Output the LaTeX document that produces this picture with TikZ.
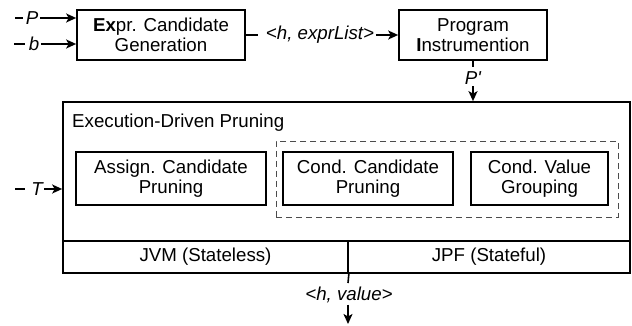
\documentclass[tikz,border=0pt]{standalone}
\usepackage{fontspec}
\setmainfont{Liberation Sans}
\usetikzlibrary{arrows.meta}
\begin{document}
\begin{tikzpicture}[x=1pt,y=-1pt,
  box/.style={draw, line width=1.7pt, align=center, inner sep=0pt, font=\fontsize{18.7}{20.5}\selectfont},
  lbl/.style={inner sep=1.5pt, font=\fontsize{18.7}{20.5}\selectfont\itshape},
  txt/.style={inner sep=0pt, font=\fontsize{18.7}{20.5}\selectfont},
  conn/.style={line width=1.6pt},
  arr/.style={line width=1.6pt, -{Stealth[length=10pt,width=9pt,inset=2.5pt]}},
  grpbox/.style={draw=black!70, line width=0.9pt, dash pattern=on 6pt off 4pt, inner sep=0pt},
]
\useasboundingbox (0,0) rectangle (632,326);

% top row
\node[box, minimum width=168pt, minimum height=50pt] (expr) at (161,35)
  {{\bfseries Ex}pr. Candidate\\Generation};
\node[box, minimum width=148pt, minimum height=50pt] (prog) at (473,35)
  {Program\\{\bfseries I}nstrumention};

% inputs to expr
\coordinate (ps) at (15,18);
\coordinate (pe) at (23,18);
\node[lbl] (p) at (32,18) {P};
\draw[conn] (ps) -- (pe);
\draw[arr] (p.east) -- (expr.west |- p.east);

\coordinate (bs) at (14,44);
\coordinate (be) at (25,44);
\node[lbl] (b) at (34,44) {b};
\draw[conn] (bs) -- (be);
\draw[arr] (b.east) -- (expr.west |- b.east);

% expr -> prog
\coordinate (he) at (258,35);
\node[lbl] (hl) at (320,35) {<h, exprList>};
\draw[conn] (expr.east |- he) -- (he);
\draw[arr] (hl.east) -- (prog.west |- hl.east);

% outer pruning box
\node[draw, line width=1.7pt, minimum width=567pt, minimum height=171pt, inner sep=0pt] (outer) at (346.5,187.5) {};
\node[txt, anchor=west] (edp) at (72,123) {Execution-Driven Pruning};

% prog -> outer
\coordinate (pd) at (473,67);
\node[lbl] (pp) at (473,78) {P\textquotesingle};
\draw[conn] (prog.south) -- (pd);
\draw[arr] (pp.south) -- (outer.north -| pp.south);

% inner boxes
\node[grpbox, minimum width=342pt, minimum height=76pt] (grp) at (447,179) {};
\node[box, minimum width=190pt, minimum height=53pt] (assign) at (171,178.5)
  {Assign. Candidate\\Pruning};
\node[box, minimum width=170pt, minimum height=53pt] (ccp) at (368,178.5)
  {Cond. Candidate\\Pruning};
\node[box, minimum width=137pt, minimum height=53pt] (cvg) at (539.5,178.5)
  {Cond. Value\\Grouping};

% bottom bar
\node[box, minimum width=285pt, minimum height=32pt] (jvm) at (205.5,257) {JVM (Stateless)};
\node[box, minimum width=282pt, minimum height=32pt] (jpf) at (489,257) {JPF (Stateful)};

% T input
\coordinate (ts) at (15,189);
\coordinate (te) at (25,189);
\node[lbl] (t) at (37,189) {T};
\draw[conn] (ts) -- (te);
\draw[arr] (t.east) -- (outer.west |- t.east);

% output
\coordinate (vd) at (348,283);
\coordinate (vo) at (348,324);
\node[lbl] (hv) at (349,295) {<h, value>};
\draw[conn] (jvm.south east) -- (vd);
\draw[arr] (hv.south -| vo) -- (vo);
\end{tikzpicture}
\end{document}
